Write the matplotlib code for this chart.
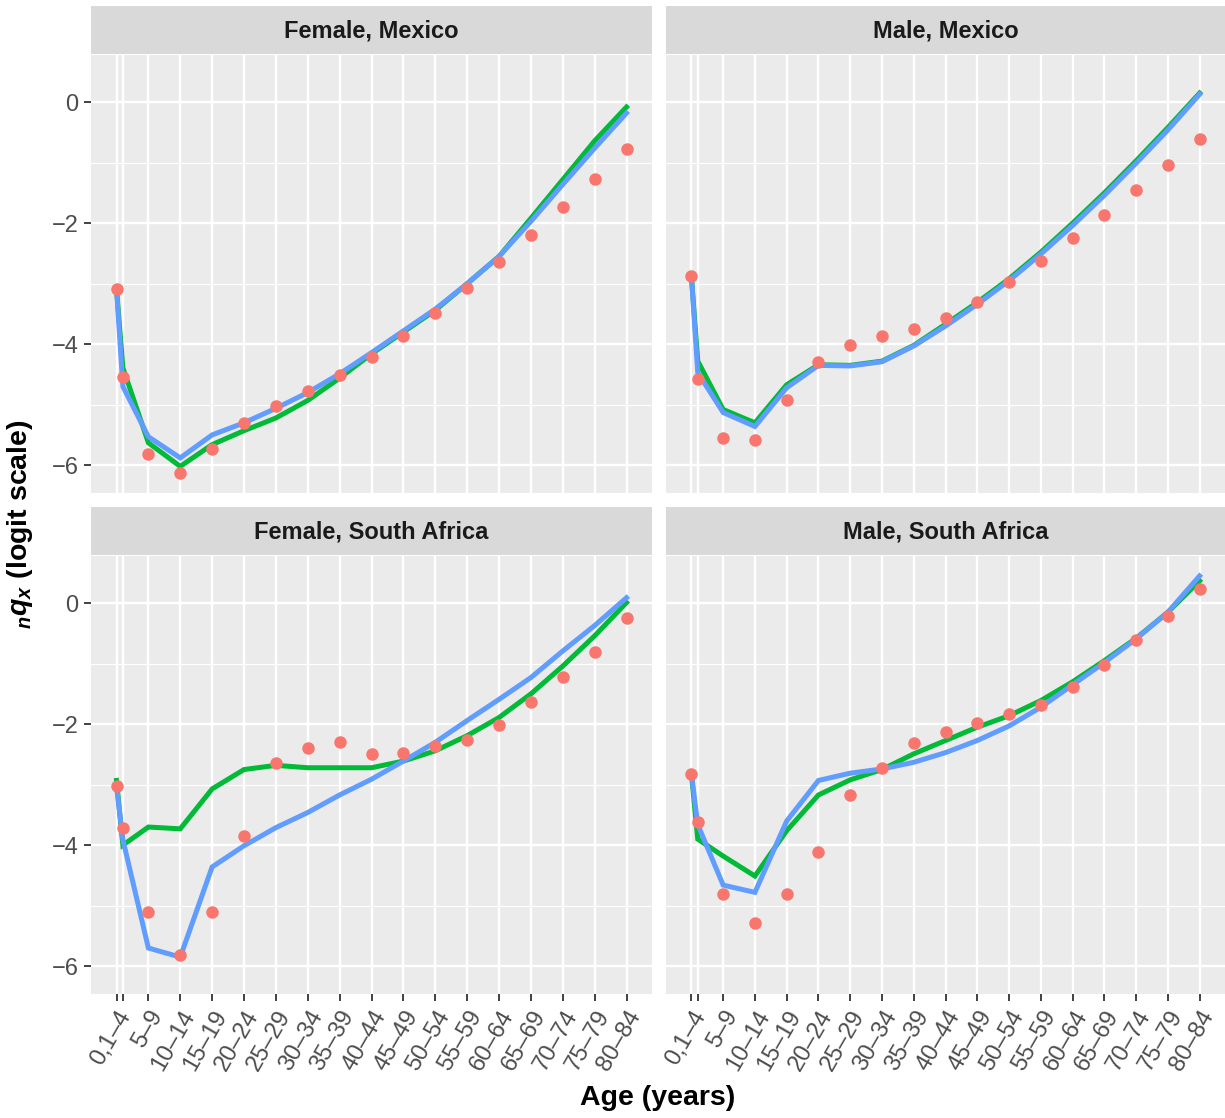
import numpy as np
import matplotlib
matplotlib.use("Agg")
import matplotlib.pyplot as plt

plt.rcParams["font.family"] = ["Liberation Sans", "DejaVu Sans"]
plt.rcParams["mathtext.fontset"] = "custom"
plt.rcParams["mathtext.rm"] = "Liberation Sans"
plt.rcParams["mathtext.it"] = "Liberation Sans:italic"
plt.rcParams["mathtext.bf"] = "Liberation Sans:bold"
plt.rcParams["mathtext.bfit"] = "Liberation Sans:bold:italic"

# data (logit of nqx)
ages = [0, 1, 5, 10, 15, 20, 25, 30, 35, 40, 45, 50, 55, 60, 65, 70, 75, 80]
age_labels = ["0,1\u20134", "", "5\u20139", "10\u201314", "15\u201319", "20\u201324",
              "25\u201329", "30\u201334", "35\u201339", "40\u201344", "45\u201349",
              "50\u201354", "55\u201359", "60\u201364", "65\u201369", "70\u201374",
              "75\u201379", "80\u201384"]

f_mex_obs = [-3.08, -4.54, -5.81, -6.13, -5.73, -5.31, -5.02, -4.77, -4.51, -4.22,
             -3.87, -3.48, -3.07, -2.64, -2.19, -1.74, -1.27, -0.77]
f_mex_green = [-3.08, -4.39, -5.63, -6.02, -5.66, -5.43, -5.22, -4.93, -4.56, -4.16,
               -3.80, -3.44, -3.00, -2.55, -1.92, -1.28, -0.64, -0.08]
f_mex_blue = [-3.08, -4.70, -5.53, -5.88, -5.50, -5.30, -5.06, -4.80, -4.49, -4.14,
              -3.78, -3.42, -3.00, -2.55, -1.97, -1.36, -0.76, -0.18]

m_mex_obs = [-2.88, -4.57, -5.55, -5.58, -4.92, -4.30, -4.01, -3.87, -3.75, -3.57,
             -3.30, -2.98, -2.62, -2.24, -1.86, -1.45, -1.04, -0.61]
m_mex_green = [-2.88, -4.28, -5.08, -5.30, -4.67, -4.34, -4.35, -4.28, -4.02, -3.67,
               -3.31, -2.92, -2.48, -2.00, -1.50, -0.97, -0.42, 0.15]
m_mex_blue = [-2.88, -4.47, -5.13, -5.36, -4.72, -4.35, -4.36, -4.29, -4.03, -3.70,
              -3.34, -2.95, -2.51, -2.04, -1.54, -1.01, -0.46, 0.13]

f_sa_obs = [-3.03, -3.71, -5.11, -5.82, -5.11, -3.85, -2.64, -2.40, -2.30, -2.50,
            -2.47, -2.36, -2.26, -2.01, -1.64, -1.22, -0.80, -0.25]
f_sa_green = [-2.93, -4.00, -3.70, -3.73, -3.07, -2.75, -2.68, -2.72, -2.72, -2.72,
              -2.61, -2.44, -2.19, -1.89, -1.50, -1.04, -0.54, 0.01]
f_sa_blue = [-3.03, -3.91, -5.70, -5.85, -4.36, -4.01, -3.71, -3.46, -3.17, -2.91,
             -2.61, -2.30, -1.94, -1.59, -1.23, -0.79, -0.37, 0.09]

m_sa_obs = [-2.82, -3.62, -4.81, -5.29, -4.81, -4.12, -3.17, -2.73, -2.31, -2.13,
            -1.98, -1.83, -1.68, -1.39, -1.02, -0.61, -0.21, 0.23]
m_sa_green = [-2.82, -3.90, -4.18, -4.51, -3.76, -3.17, -2.92, -2.75, -2.49, -2.27,
              -2.05, -1.86, -1.61, -1.30, -0.95, -0.58, -0.15, 0.37]
m_sa_blue = [-2.82, -3.66, -4.66, -4.78, -3.60, -2.93, -2.81, -2.74, -2.63, -2.47,
             -2.27, -2.03, -1.72, -1.35, -0.98, -0.59, -0.15, 0.45]

panels = [
    ("Female, Mexico", f_mex_obs, f_mex_green, f_mex_blue),
    ("Male, Mexico", m_mex_obs, m_mex_green, m_mex_blue),
    ("Female, South Africa", f_sa_obs, f_sa_green, f_sa_blue),
    ("Male, South Africa", m_sa_obs, m_sa_green, m_sa_blue),
]

W, H = 1225, 1118
fig = plt.figure(figsize=(W / 100, H / 100), dpi=100)

# pixel boxes (left, top, right, bottom)
cols = [(91, 652), (666, 1225)]
rows = [(55, 493), (556, 994)]
strip_h = 48

for i, (title, obs, green, blue) in enumerate(panels):
    r, c = divmod(i, 2)
    x0, x1 = cols[c]
    y0, y1 = rows[r]
    ax = fig.add_axes([x0 / W, 1 - y1 / H, (x1 - x0) / W, (y1 - y0) / H])
    sax = fig.add_axes([x0 / W, 1 - (y0 - 1) / H, (x1 - x0) / W, strip_h / H])
    sax.set_facecolor("#D9D9D9")
    sax.set_xticks([])
    sax.set_yticks([])
    for s in sax.spines.values():
        s.set_visible(False)
    sax.text(0.5, 0.47, title, ha="center", va="center", fontsize=17,
             fontweight="bold", color="#1A1A1A", transform=sax.transAxes)

    ax.set_facecolor("#EBEBEB")
    for s in ax.spines.values():
        s.set_visible(False)
    ax.set_xlim(-4, 84)
    ax.set_ylim(-6.46, 0.78)
    ax.set_yticks([-6, -4, -2, 0])
    ax.set_yticks([-5, -3, -1], minor=True)
    ax.set_xticks(ages)
    ax.grid(True, which="major", color="white", lw=1.7)
    ax.grid(True, which="minor", axis="y", color="white", lw=0.85)
    ax.set_axisbelow(True)
    ax.tick_params(which="minor", length=0)
    ax.tick_params(which="major", length=5, width=1.3, color="#333333",
                   labelcolor="#4D4D4D", labelsize=17, pad=4)

    if c == 0:
        ax.set_yticklabels(["\u22126", "\u22124", "\u22122", "0"])
    else:
        ax.tick_params(axis="y", which="major", length=0, labelleft=False)
    if r == 1:
        ax.set_xticklabels(age_labels, rotation=60, ha="right", va="top",
                           rotation_mode="anchor")
    else:
        ax.tick_params(axis="x", which="major", length=0, labelbottom=False)

    ax.plot(ages, green, color="#00BA38", lw=3.6, solid_joinstyle="miter")
    ax.plot(ages, blue, color="#619CFF", lw=3.6, solid_joinstyle="miter")
    ax.plot(ages, obs, "o", color="#F8766D", ms=9, mec="none")

fig.text(658 / W, 1 - 1098 / H, "Age (years)", ha="center", va="center",
         fontsize=20.5, fontweight="bold")
fig.text(20 / W, 1 - 524 / H, r"$_{\mathbfit{n}}\mathbfit{q}_{\mathbfit{x}}$ (logit scale)",
         ha="center", va="center", rotation=90, fontsize=20.5, fontweight="bold")

fig.savefig("out.png", dpi=100, facecolor="white")
